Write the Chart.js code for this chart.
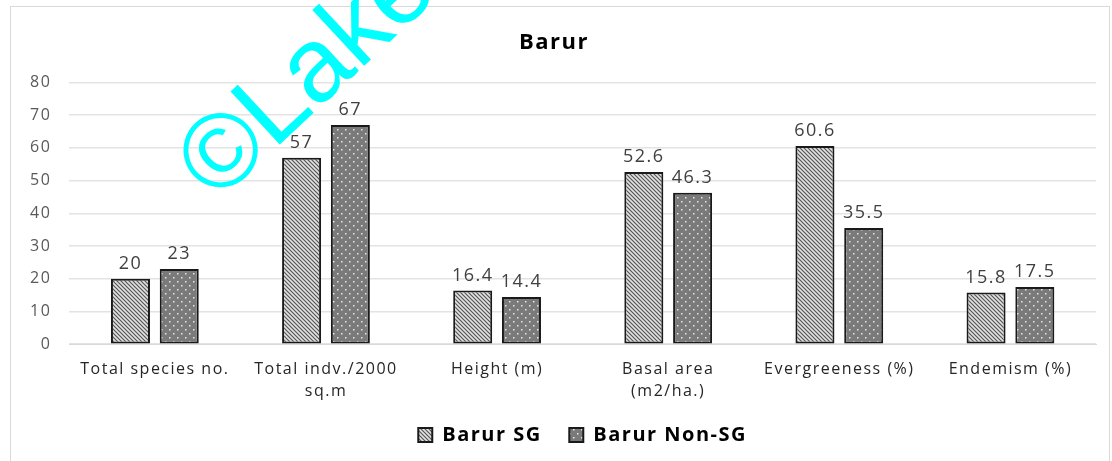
<!DOCTYPE html>
<html>
<head>
<meta charset="utf-8">
<script src="https://cdn.jsdelivr.net/npm/chart.js@4.4.1/dist/chart.umd.min.js"></script>
<style>
  html, body { margin: 0; padding: 0; background: #ffffff; }
  #wrap { position: relative; width: 1112px; height: 461px; }
  #frame { position: absolute; left: 10px; top: 6px; width: 1098px; height: 470px; border: 1px solid #d9d9d9; }
  canvas { position: absolute; left: 0; top: 0; }
</style>
</head>
<body>
<div id="wrap">
  <div id="frame"></div>
  <canvas id="barurChart" width="1112" height="461"></canvas>
</div>
<script>
// datos
const categories = [
  'Total species no.',
  ['Total indv./2000', 'sq.m'],
  'Height (m)',
  ['Basal area', '(m2/ha.)'],
  'Evergreeness (%)',
  'Endemism (%)'
];
const sgValues = [20, 57, 16.4, 52.6, 60.6, 15.8];
const nonSgValues = [23, 67, 14.4, 46.3, 35.5, 17.5];
const yTicks = [0, 10, 20, 30, 40, 50, 60, 70, 80];

const FONT = '"Open Sans", "DejaVu Sans", sans-serif';
Chart.defaults.font.family = FONT;

// trama rayada para Barur SG
function hatchPattern() {
  const c = document.createElement('canvas');
  c.width = 4; c.height = 4;
  const g = c.getContext('2d');
  g.fillStyle = '#e2e2e2';
  g.fillRect(0, 0, 4, 4);
  g.strokeStyle = '#555555';
  g.lineWidth = 1.2;
  g.beginPath();
  g.moveTo(-1, -1); g.lineTo(5, 5);
  g.moveTo(-1, 3); g.lineTo(1, 5);
  g.moveTo(3, -1); g.lineTo(5, 1);
  g.stroke();
  return g.createPattern(c, 'repeat');
}

// trama de puntos para Barur Non-SG
function dotPattern() {
  const c = document.createElement('canvas');
  c.width = 8; c.height = 8;
  const g = c.getContext('2d');
  g.fillStyle = '#7a7a7a';
  g.fillRect(0, 0, 8, 8);
  g.fillStyle = '#e8e8e8';
  g.fillRect(1, 1, 1.5, 1.5);
  g.fillRect(5, 5, 1.5, 1.5);
  return g.createPattern(c, 'repeat');
}

// el texto del original es más ancho: espaciado entre letras
const wideText = {
  id: 'wideText',
  beforeLayout(chart) { chart.ctx.letterSpacing = '1.5px'; },
  beforeDraw(chart) { chart.ctx.letterSpacing = '1.5px'; }
};

// etiquetas de valor encima de cada barra
const valueLabels = {
  id: 'valueLabels',
  afterDatasetsDraw(chart) {
    const ctx = chart.ctx;
    ctx.save();
    ctx.font = '18px ' + FONT;
    ctx.fillStyle = '#404040';
    ctx.textAlign = 'center';
    ctx.textBaseline = 'bottom';
    chart.data.datasets.forEach((ds, i) => {
      chart.getDatasetMeta(i).data.forEach((bar, j) => {
        ctx.fillText(String(ds.data[j]), bar.x, bar.y - 6);
      });
    });
    ctx.restore();
  }
};

// marca de agua cian
const watermark = {
  id: 'watermark',
  afterDraw(chart) {
    const ctx = chart.ctx;
    ctx.save();
    ctx.letterSpacing = '0px';
    ctx.translate(217, 203);
    ctx.rotate(-43 * Math.PI / 180);
    ctx.font = '105px "Liberation Sans", Arial, sans-serif';
    ctx.fillStyle = '#00ffff';
    ctx.textBaseline = 'alphabetic';
    ctx.fillText('\u00A9Lake', 0, 0);
    ctx.restore();
  }
};

const ctxBarur = document.getElementById('barurChart').getContext('2d');

const barurChart = new Chart(ctxBarur, {
  type: 'bar',
  data: {
    labels: categories,
    datasets: [
      {
        label: 'Barur SG',
        data: sgValues,
        backgroundColor: hatchPattern(),
        borderColor: '#1a1a1a',
        borderWidth: 2,
        borderSkipped: false,
        barPercentage: 0.8,
        categoryPercentage: 0.57
      },
      {
        label: 'Barur Non-SG',
        data: nonSgValues,
        backgroundColor: dotPattern(),
        borderColor: '#1a1a1a',
        borderWidth: 2,
        borderSkipped: false,
        barPercentage: 0.8,
        categoryPercentage: 0.57
      }
    ]
  },
  options: {
    responsive: false,
    animation: false,
    layout: { padding: { left: 12, right: 16, top: 20, bottom: 6 } },
    plugins: {
      title: {
        display: true,
        text: 'Barur',
        color: '#000000',
        font: { size: 22, weight: 'bold' },
        padding: { top: 10, bottom: 26 }
      },
      legend: {
        position: 'bottom',
        fullSize: false,
        labels: {
          color: '#000000',
          font: { size: 20, weight: 'bold' },
          boxWidth: 14,
          boxHeight: 14,
          padding: 16,
          generateLabels(chart) {
            const items = Chart.defaults.plugins.legend.labels.generateLabels(chart);
            // hueco más ancho entre las dos entradas, como en el original
            items[0].text = items[0].text + '\u2002';
            return items;
          }
        }
      },
      tooltip: { enabled: false }
    },
    scales: {
      x: {
        grid: { display: false },
        border: { color: '#d9d9d9', width: 1 },
        ticks: {
          color: '#262626',
          font: { size: 16, lineHeight: 1.4 },
          padding: 6,
          maxRotation: 0,
          autoSkip: false
        }
      },
      y: {
        min: 0,
        max: 80,
        afterBuildTicks(axis) {
          axis.ticks = yTicks.map(v => ({ value: v }));
        },
        grid: { color: '#e3e3e3', lineWidth: 1.5, drawTicks: false },
        border: { display: false },
        ticks: {
          color: '#595959',
          font: { size: 16 },
          padding: 18
        }
      }
    }
  },
  plugins: [wideText, valueLabels, watermark]
});
</script>
</body>
</html>
